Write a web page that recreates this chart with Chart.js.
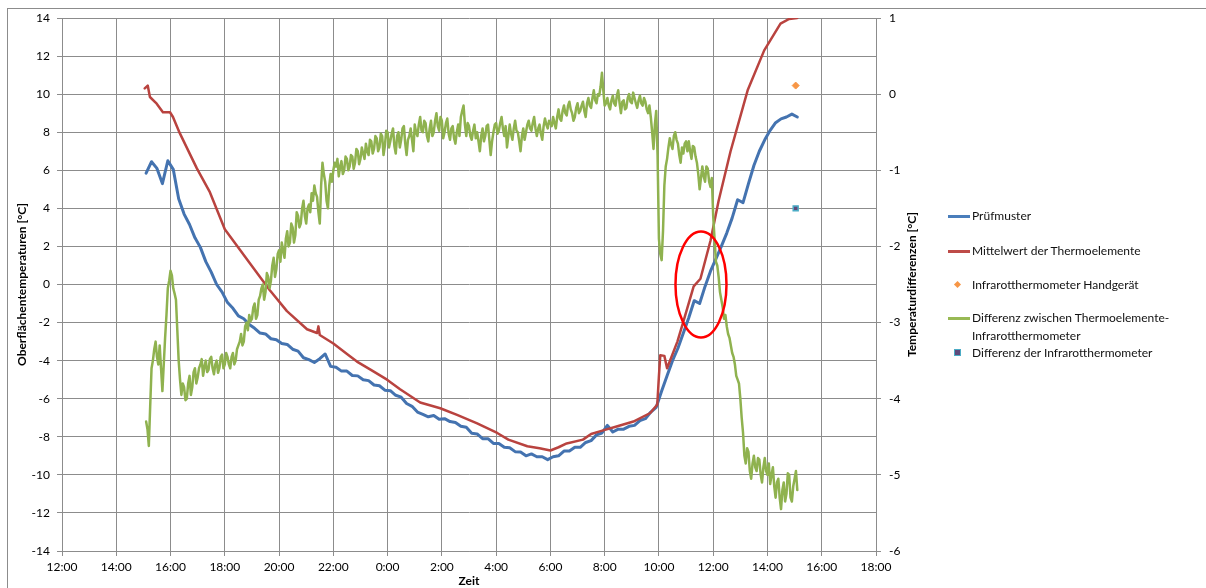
<!DOCTYPE html>
<html>
<head>
<meta charset="utf-8">
<script src="https://cdn.jsdelivr.net/npm/chart.js@4/dist/chart.umd.min.js"></script>
<style>
  html, body { margin: 0; padding: 0; background: #fff; }
  #wrap { position: relative; width: 1206px; height: 588px; overflow: hidden; font-family: Lato, sans-serif; }
  #frame { position: absolute; left: 7px; top: 8px; width: 1400px; height: 800px; border: 1px solid #8c8c8c; }
  #chart { position: absolute; left: 0; top: 0; }
  .row { position: absolute; left: 948px; padding-left: 24px; font-size: 12px; line-height: 18px; color: #111; white-space: nowrap; }
  .line { position: absolute; left: 0; top: 8px; width: 22px; height: 3px; }
  .diamond { position: absolute; left: 7px; top: 6px; width: 5px; height: 5px; background: #f79646; transform: rotate(45deg); }
  .square { position: absolute; left: 6px; top: 5px; width: 5px; height: 5px; background: #604a7b; border: 1.5px solid #4bacc6; }
</style>
</head>
<body>
<div id="wrap">
  <div id="frame"></div>
  <canvas id="chart" width="1206" height="588"></canvas>
  <div class="row" style="top:207px"><span class="line" style="background:#4a7ebb"></span>Prüfmuster</div>
  <div class="row" style="top:242px"><span class="line" style="background:#be4b48"></span>Mittelwert der Thermoelemente</div>
  <div class="row" style="top:276px"><span class="diamond"></span>Infrarotthermometer Handgerät</div>
  <div class="row" style="top:309px"><span class="line" style="background:#98b954"></span>Differenz zwischen Thermoelemente-<br>Infrarotthermometer</div>
  <div class="row" style="top:344px"><span class="square"></span>Differenz der Infrarotthermometer</div>
</div>
<script>
// Zeit in Stunden ab 12:00 (0 = 12:00, 12 = 0:00 am Folgetag)
const hourLabels = ['12:00','14:00','16:00','18:00','20:00','22:00','0:00','2:00','4:00','6:00','8:00','10:00','12:00','14:00','16:00','18:00'];
const tempTicks = [-14, 14, 2];
const diffTicks = [-6, 1, 1];

// Messbeginn 15:06, Prüfmuster alle 12 min, Differenz alle 3 min
const startTime = 3.1;
const blueStep = 0.2;
const greenStep = 0.05;

const redTime = [3.05, 3.16, 3.24, 3.49, 3.72, 3.98, 4.09, 4.34, 4.97, 5.45, 6.0, 6.93, 7.66, 8.29, 9.03, 9.4, 9.45, 9.5,
  10.0, 10.6, 10.87, 11.4, 11.98, 12.46, 13.2, 13.94, 14.56, 15.3, 16.04, 16.45, 17.15, 17.6, 18.0, 18.3, 18.6, 19.2,
  19.5, 19.85, 20.47, 21.06, 21.68, 21.94, 22.0, 22.05, 22.2, 22.3, 22.68, 22.9, 23.28, 23.53, 23.9, 24.2, 24.64,
  25.27, 25.88, 26.48, 26.8, 27.1];
const redTemp = [10.3, 10.45, 9.85, 9.5, 9.05, 9.05, 8.8, 7.95, 6.1, 4.85, 2.9, 1.1, -0.3, -1.4, -2.35, -2.55, -2.2, -2.65,
  -3.1, -3.75, -4.05, -4.5, -5.0, -5.5, -6.2, -6.5, -6.85, -7.3, -7.8, -8.15, -8.5, -8.6, -8.72, -8.55, -8.35, -8.15,
  -7.85, -7.7, -7.45, -7.2, -6.75, -6.3, -4.8, -3.72, -3.75, -4.4, -3.0, -1.95, -0.1, 0.3, 2.3, 4.4, 7.0,
  10.2, 12.3, 13.7, 13.95, 14.0];

const blueTemp = [
  5.85, 6.45, 6.1, 5.3, 6.5, 6.05, 4.5, 3.7, 3.15, 2.45,
  1.95, 1.2, 0.65, 0.0, -0.4, -0.95, -1.25, -1.65, -1.8, -2.1,
  -2.3, -2.55, -2.6, -2.85, -2.9, -3.1, -3.15, -3.4, -3.5, -3.85,
  -3.95, -4.1, -3.9, -3.65, -4.3, -4.35, -4.55, -4.55, -4.78, -4.8,
  -5.0, -5.05, -5.28, -5.32, -5.55, -5.58, -5.82, -5.92, -6.25, -6.4,
  -6.7, -6.82, -6.95, -6.88, -7.08, -7.05, -7.2, -7.25, -7.45, -7.5,
  -7.82, -7.85, -8.1, -8.1, -8.35, -8.35, -8.55, -8.58, -8.78, -8.8,
  -9.0, -8.9, -9.05, -9.05, -9.2, -9.05, -9.0, -8.75, -8.75, -8.55,
  -8.55, -8.3, -8.2, -7.9, -7.8, -7.4, -7.75, -7.6, -7.6, -7.45,
  -7.4, -7.15, -7.05, -6.7, -6.45, -5.6, -4.8, -4.0, -3.35, -2.55,
  -1.75, -0.85, -1.0, -0.1, 0.7, 1.35, 2.0, 2.7, 3.5, 4.45,
  4.3, 5.3, 6.25, 7.0, 7.6, 8.1, 8.5, 8.7, 8.8, 8.95,
  8.8
];

// je Zeile eine Stunde (20 Werte)
const greenDiff = [
  -4.30, -4.40, -4.62, -4.10, -3.60, -3.50, -3.35, -3.25, -3.45, -3.55, -3.30, -3.60, -3.90, -3.55, -3.20, -2.90, -2.55, -2.45, -2.32, -2.38,
  -2.55, -2.62, -2.70, -3.10, -3.50, -3.75, -3.95, -3.80, -3.85, -4.02, -4.00, -3.80, -3.70, -3.95, -3.85, -3.65, -3.60, -3.80, -3.72, -3.60,
  -3.55, -3.48, -3.70, -3.58, -3.50, -3.65, -3.62, -3.48, -3.45, -3.60, -3.68, -3.55, -3.50, -3.66, -3.60, -3.45, -3.42, -3.60, -3.55, -3.40,
  -3.45, -3.55, -3.60, -3.45, -3.40, -3.55, -3.50, -3.35, -3.30, -3.25, -3.15, -3.30, -3.25, -3.05, -3.00, -3.10, -2.90, -2.98, -2.95, -2.80,
  -2.75, -2.95, -2.90, -2.70, -2.65, -2.55, -2.50, -2.70, -2.60, -2.35, -2.40, -2.55, -2.45, -2.25, -2.15, -2.40, -2.30, -2.10, -2.05, -2.20,
  -1.95, -2.05, -2.15, -1.90, -1.80, -2.00, -1.95, -1.70, -1.75, -1.95, -1.85, -1.55, -1.60, -1.75, -1.70, -1.50, -1.40, -1.60, -1.70, -1.50,
  -1.45, -1.55, -1.30, -1.40, -1.20, -1.30, -1.35, -1.55, -1.70, -1.20, -0.90, -1.05, -1.15, -1.40, -1.50, -1.20, -1.05, -1.15, -1.00, -0.90,
  -0.95, -0.85, -1.08, -0.95, -0.88, -1.05, -1.00, -0.82, -0.85, -1.00, -0.95, -0.80, -0.82, -0.98, -0.90, -0.72, -0.75, -0.92, -0.85, -0.70,
  -0.78, -0.85, -0.65, -0.75, -0.80, -0.60, -0.62, -0.78, -0.72, -0.55, -0.58, -0.75, -0.70, -0.52, -0.55, -0.80, -0.68, -0.48, -0.50, -0.70,
  -0.62, -0.52, -0.45, -0.68, -0.78, -0.55, -0.50, -0.70, -0.60, -0.45, -0.42, -0.65, -0.80, -0.60, -0.55, -0.45, -0.60, -0.75, -0.40, -0.50,
  -0.55, -0.40, -0.30, -0.48, -0.50, -0.35, -0.38, -0.55, -0.62, -0.45, -0.35, -0.55, -0.50, -0.35, -0.25, -0.42, -0.48, -0.30, -0.35, -0.58,
  -0.50, -0.38, -0.32, -0.52, -0.60, -0.45, -0.42, -0.58, -0.65, -0.50, -0.40, -0.55, -0.30, -0.22, -0.15, -0.40, -0.55, -0.38, -0.42, -0.55,
  -0.60, -0.48, -0.40, -0.58, -0.50, -0.62, -0.75, -0.55, -0.45, -0.62, -0.55, -0.42, -0.40, -0.60, -0.80, -0.62, -0.50, -0.40, -0.38, -0.52,
  -0.48, -0.38, -0.30, -0.45, -0.55, -0.42, -0.70, -0.55, -0.40, -0.52, -0.60, -0.45, -0.35, -0.48, -0.50, -0.62, -0.75, -0.55, -0.45, -0.60,
  -0.50, -0.40, -0.35, -0.45, -0.48, -0.38, -0.30, -0.45, -0.55, -0.45, -0.40, -0.52, -0.60, -0.42, -0.32, -0.40, -0.45, -0.35, -0.38, -0.42,
  -0.30, -0.38, -0.45, -0.30, -0.20, -0.32, -0.35, -0.22, -0.15, -0.25, -0.28, -0.15, -0.10, -0.20, -0.25, -0.35, -0.30, -0.18, -0.12, -0.25,
  -0.22, -0.15, -0.10, -0.22, -0.30, -0.12, -0.05, -0.15, -0.18, -0.05, 0.05, -0.08, -0.12, 0.00, -0.02, 0.10, 0.28, 0.05, -0.15, -0.12,
  -0.05, -0.15, -0.20, -0.08, -0.02, -0.12, -0.15, -0.02, 0.05, -0.12, -0.25, -0.10, -0.08, -0.20, -0.18, -0.05, 0.00, -0.10, -0.12, 0.02,
  -0.05, -0.12, -0.18, -0.08, -0.02, -0.12, -0.15, -0.05, -0.10, -0.20, -0.25, -0.15, -0.30, -0.50, -0.72, -0.40, -0.22, -0.80, -1.90, -2.10,
  -2.18, -1.80, -1.20, -0.95, -0.85, -0.70, -0.58, -0.66, -0.72, -0.55, -0.50, -0.60, -0.65, -0.80, -0.90, -0.70, -0.78, -0.65, -0.62, -0.75,
  -0.62, -0.75, -0.85, -0.68, -0.70, -0.82, -0.90, -1.05, -1.25, -1.10, -0.95, -1.08, -1.15, -0.95, -0.98, -1.15, -1.22, -1.10, -1.60, -1.90,
  -2.20, -2.25, -2.40, -2.60, -2.70, -2.80, -2.95, -2.90, -3.05, -3.15, -3.20, -3.30, -3.40, -3.45, -3.55, -3.70, -3.75, -3.80, -4.00, -4.25,
  -4.45, -4.75, -4.85, -4.65, -4.70, -4.95, -5.05, -4.85, -4.75, -4.90, -4.95, -4.78, -4.80, -5.00, -5.10, -4.90, -4.78, -4.95, -5.00, -4.85,
  -5.12, -5.00, -4.90, -5.15, -5.30, -5.10, -5.05, -5.30, -5.45, -5.20, -5.10, -5.35, -5.25, -4.98, -5.00, -5.30, -5.35, -5.15, -5.05, -4.95,
  -5.20
];

const handTime = [27.04];
const handTemp = [10.45];
const irDiffTime = [27.04];
const irDiff = [-1.5];

// rote Markierung (Ellipse) in Achseneinheiten
const ringCenter = [23.55, 0];
const ringRadius = [0.94, 2.78];

const gridColor = '#8c8c8c';
const tickFont = { family: 'Lato', size: 12 };
const titleFont = { family: 'Lato', size: 12, weight: 'bold' };

const pairs = (xs, ys) => ys.map((y, i) => ({ x: xs[i], y: y }));
const stepped = (ys, step) => ys.map((y, i) => ({ x: startTime + i * step, y: y }));

const extras = {
  id: 'extras',
  afterDatasetsDraw(chart) {
    const { ctx, scales } = chart;
    const cx = scales.x.getPixelForValue(ringCenter[0]);
    const cy = scales.y.getPixelForValue(ringCenter[1]);
    const rx = scales.x.getPixelForValue(ringCenter[0] + ringRadius[0]) - cx;
    const ry = cy - scales.y.getPixelForValue(ringCenter[1] + ringRadius[1]);
    ctx.save();
    ctx.strokeStyle = '#ff0000';
    ctx.lineWidth = 2.5;
    ctx.beginPath();
    ctx.ellipse(cx, cy, rx, ry, 0, 0, Math.PI * 2);
    ctx.stroke();
    ctx.restore();
  },
  afterDraw(chart) {
    const { ctx, chartArea } = chart;
    ctx.save();
    ctx.translate(912, (chartArea.top + chartArea.bottom) / 2);
    ctx.rotate(-Math.PI / 2);
    ctx.font = 'bold 12px Lato';
    ctx.fillStyle = '#000';
    ctx.textAlign = 'center';
    ctx.textBaseline = 'middle';
    ctx.fillText('Temperaturdifferenzen [°C]', 0, 0);
    ctx.restore();
  }
};

const ctx = document.getElementById('chart').getContext('2d');
const chart = new Chart(ctx, {
  type: 'line',
  data: {
    datasets: [{
      label: 'Infrarotthermometer Handgerät',
      type: 'scatter',
      data: pairs(handTime, handTemp),
      yAxisID: 'y',
      pointStyle: 'rectRot',
      pointRadius: 3.5,
      backgroundColor: '#f79646',
      borderColor: '#f79646',
      order: 0
    }, {
      label: 'Differenz der Infrarotthermometer',
      type: 'scatter',
      data: pairs(irDiffTime, irDiff),
      yAxisID: 'y2',
      pointStyle: 'rect',
      pointRadius: 3.5,
      backgroundColor: '#604a7b',
      borderColor: '#4bacc6',
      borderWidth: 1.5,
      order: 0
    }, {
      label: 'Differenz zwischen Thermoelemente-Infrarotthermometer',
      data: stepped(greenDiff, greenStep),
      yAxisID: 'y2',
      borderColor: '#8fb24f',
      borderWidth: 2.5,
      order: 1
    }, {
      label: 'Mittelwert der Thermoelemente',
      data: pairs(redTime, redTemp),
      yAxisID: 'y',
      borderColor: '#b9433f',
      borderWidth: 2.5,
      order: 2
    }, {
      label: 'Prüfmuster',
      data: stepped(blueTemp, blueStep),
      yAxisID: 'y',
      borderColor: '#4473b0',
      borderWidth: 3,
      order: 3
    }]
  },
  options: {
    responsive: false,
    animation: false,
    devicePixelRatio: 1,
    layout: { padding: { left: 7, top: 18, right: 280, bottom: 0 } },
    elements: {
      point: { radius: 0 },
      line: { tension: 0, borderJoinStyle: 'round', borderCapStyle: 'round' }
    },
    plugins: { legend: { display: false }, tooltip: { enabled: false } },
    scales: {
      x: {
        type: 'linear', min: 0, max: 30,
        ticks: { stepSize: 2, autoSkip: false, maxRotation: 0, color: '#000', font: tickFont, padding: 4,
          callback: (v, i) => hourLabels[i] },
        grid: { color: gridColor, tickLength: 5 },
        border: { color: gridColor },
        title: { display: true, text: 'Zeit', color: '#000', font: titleFont, padding: 0 },
        afterFit: s => { s.height = 37; }
      },
      y: {
        position: 'left', min: tempTicks[0], max: tempTicks[1],
        ticks: { stepSize: tempTicks[2], color: '#000', font: tickFont, padding: 7 },
        grid: { color: gridColor, tickLength: 5 },
        border: { color: gridColor },
        title: { display: true, text: 'Oberflächentemperaturen [°C]', color: '#000', font: titleFont, padding: { top: 8, bottom: 0 } },
        afterFit: s => { s.width = 55; }
      },
      y2: {
        position: 'right', min: diffTicks[0], max: diffTicks[1],
        ticks: { stepSize: diffTicks[2], color: '#000', font: tickFont, padding: 8 },
        grid: { drawOnChartArea: false, color: gridColor, tickLength: 5 },
        border: { color: gridColor },
        afterFit: s => { s.width = 50; }
      }
    }
  },
  plugins: [extras]
});
</script>
</body>
</html>
